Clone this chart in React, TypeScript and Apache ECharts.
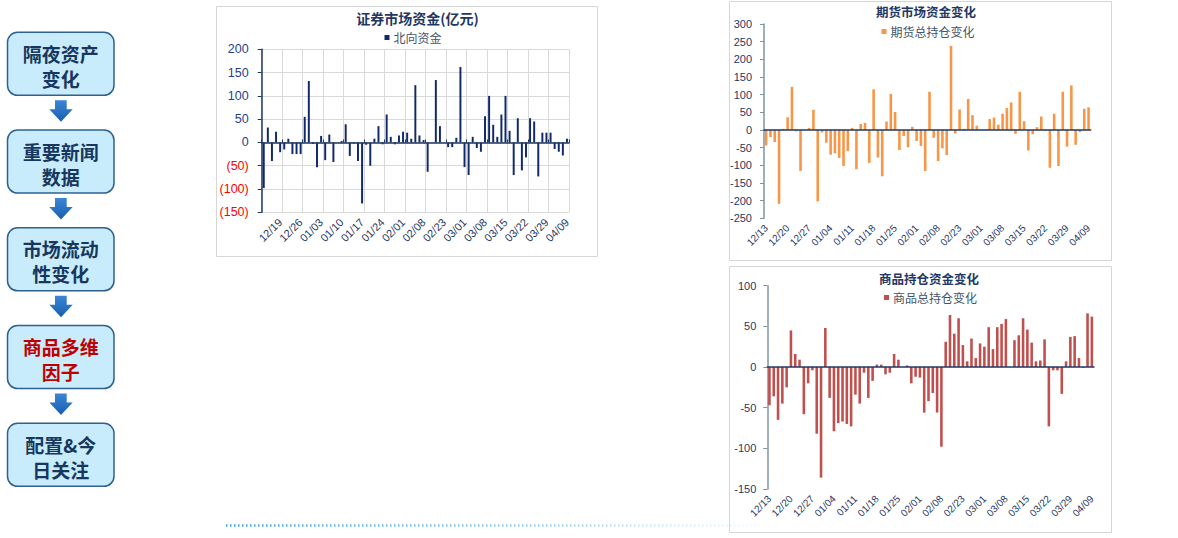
import React, { useEffect, useRef } from 'react';
import * as echarts from 'echarts';

// ---------- data ----------
const secDates = [
  '12/13','12/14','12/15','12/18','12/19','12/20','12/21','12/22','12/25','12/26',
  '12/27','12/28','12/29','01/02','01/03','01/04','01/05','01/08','01/09','01/10',
  '01/11','01/12','01/15','01/16','01/17','01/18','01/19','01/22','01/23','01/24',
  '01/25','01/26','01/30','01/31','02/01','02/02','02/05','02/06','02/07','02/08',
  '02/19','02/20','02/21','02/22','02/23','02/26','02/27','02/28','02/29','03/01',
  '03/04','03/05','03/06','03/07','03/08','03/11','03/12','03/13','03/14','03/15',
  '03/18','03/19','03/20','03/21','03/22','03/25','03/26','03/27','03/28','03/29',
  '04/01','04/02','04/03','04/08','04/09',
];
const secTicks = ['12/19','12/26','01/03','01/10','01/17','01/24','02/01','02/08','02/23','03/01','03/08','03/15','03/22','03/29','04/09'];
const northbound = [
  -98, 32, -40, 23, -21,
  -15, 8, -25, -25, -25,
  55, 132, -3, -53, 14,
  -38, 17, -42, 0, 3,
  39, -29, -2, -40, -131,
  -5, -50, 8, 35, -4,
  60, 12, -4, 15, 23,
  21, 8, 123, 15, 5,
  -63, 0, 134, 35, 0,
  -10, -10, 10, 162, -53,
  -70, 12, -12, -20, 56,
  100, 38, 12, 60, 100,
  25, -70, 52, -60, -32,
  52, 45, -73, 21, 21,
  21, -14, -20, -28, 8,
];

const futDates = [
  '12/13','12/14','12/15','12/18','12/19','12/20','12/21','12/22','12/25','12/26',
  '12/27','12/28','12/29','01/02','01/03','01/04','01/05','01/08','01/09','01/10',
  '01/11','01/12','01/15','01/16','01/17','01/18','01/19','01/22','01/23','01/24',
  '01/25','01/26','01/29','01/30','01/31','02/01','02/02','02/05','02/06','02/07',
  '02/08','02/19','02/20','02/21','02/22','02/23','02/26','02/27','02/28','02/29',
  '03/01','03/04','03/05','03/06','03/07','03/08','03/11','03/12','03/13','03/14',
  '03/15','03/18','03/19','03/20','03/21','03/22','03/25','03/26','03/27','03/28',
  '03/29','04/01','04/02','04/03','04/08','04/09',
];
const futTicks = ['12/13','12/20','12/27','01/04','01/11','01/18','01/25','02/01','02/08','02/23','03/01','03/08','03/15','03/22','03/29','04/09'];
const futuresOI = [
  -44, -20, -34, -209, 3, 36, 122, -4, -116, 0,
  6, 57, -202, -7, -36, -70, -66, -79, -102, -60,
  6, -111, 17, 20, -93, 115, -78, -131, 24, 102,
  51, -57, -17, -49, 9, -31, -45, -116, 108, -22,
  -88, -52, -71, 238, -10, 58, 3, 88, 42, 12,
  0, 0, 31, 35, 15, 46, 62, 78, -11, 108,
  25, -58, -12, 8, 38, -3, -107, 46, -102, 108,
  -47, 126, -42, -6, 60, 64,
];
const commodityOI = [
  -47, -36, -65, -45, -25,
  45, 16, 9, -58, -20,
  -4, -82, -136, 48, -38,
  -79, -69, -67, -70, -73,
  -34, -45, -7, -38, -17,
  3, 3, -9, -7, 16,
  9, 0, 2, -20, -12,
  -13, -56, -42, -32, -56,
  -98, 31, 64, 41, 60,
  27, 7, 35, 11, 29,
  25, 49, 22, 49, 53,
  59, 0, 33, 39, 60,
  46, 30, 7, 8, 34,
  -73, -4, -4, -33, 7,
  37, 38, 11, -1, 66,
  62,
];

const flowSteps = [
  ['隔夜资产', '变化'],
  ['重要新闻', '数据'],
  ['市场流动', '性变化'],
  ['商品多维', '因子'],
  ['配置&今', '日关注'],
];
const highlightedStep = 3;

const chartTitles = ['证券市场资金(亿元)', '期货市场资金变化', '商品持仓资金变化'];
const seriesNames = ['北向资金', '期货总持仓变化', '商品总持仓变化'];

// ---------- styles ----------
const NAVY = '#1f3864';
const SLATE = '#7d95a1';
const LEGEND_TEXT = '#44546a';
const FONT = '"Liberation Sans", Arial, "Noto Sans CJK SC", sans-serif';
const CJK = '"Noto Sans CJK SC", "Liberation Sans", sans-serif';

function labelAxis(gridIndex: number, data: string[], ticks: string[], fontSize: number, split: boolean) {
  return {
    type: 'category',
    gridIndex,
    data,
    position: 'bottom',
    boundaryGap: true,
    axisLine: { show: false, onZero: false },
    axisTick: { show: false },
    axisLabel: {
      interval: (_i: number, v: string) => ticks.includes(v),
      rotate: 45,
      margin: 8,
      fontSize,
      color: NAVY,
      fontFamily: FONT,
    },
    splitLine: {
      show: split,
      interval: (i: number) => i % 5 === 0,
      lineStyle: { color: '#d9d9d9', width: 1 },
    },
  };
}

function zeroAxis(gridIndex: number, data: string[], ticks: boolean) {
  return {
    type: 'category',
    gridIndex,
    data,
    position: 'bottom',
    boundaryGap: true,
    z: 5,
    axisLine: { show: true, onZero: true, lineStyle: { color: NAVY, width: 1.5 } },
    axisTick: {
      show: ticks,
      inside: true,
      length: 3,
      interval: (i: number) => i % 5 === 0,
      lineStyle: { color: NAVY, width: 1 },
    },
    axisLabel: { show: false },
    splitLine: { show: false },
  };
}

function legendFor(name: string, left: number, top: number) {
  return {
    data: [name],
    left,
    top,
    icon: 'rect',
    itemWidth: 5,
    itemHeight: 5,
    padding: 0,
    selectedMode: false,
    textStyle: { fontSize: 12, color: LEGEND_TEXT, fontFamily: CJK, padding: [0, 0, 0, -1] },
  };
}

function buildGraphics() {
  const els: any[] = [];
  // chart frames
  els.push({ type: 'rect', z: -10, shape: { x: 216.5, y: 6.5, width: 381, height: 250 }, style: { fill: '#fff', stroke: '#d6d6d6', lineWidth: 1 } });
  els.push({ type: 'rect', z: -10, shape: { x: 729.5, y: 1.5, width: 382, height: 259 }, style: { fill: '#fff', stroke: '#d6d6d6', lineWidth: 1 } });
  els.push({ type: 'rect', z: -10, shape: { x: 729.5, y: 266.5, width: 382, height: 266 }, style: { fill: '#fff', stroke: '#d6d6d6', lineWidth: 1 } });

  // titles
  const titlePos = [[417.5, 18, 14], [926, 11.5, 12.5], [929, 278, 12.5]];
  chartTitles.forEach((t, i) => {
    els.push({
      type: 'text', z: 10,
      style: {
        text: t, x: titlePos[i][0], y: titlePos[i][1],
        fill: NAVY, fontSize: titlePos[i][2], fontWeight: 'bold', fontFamily: CJK,
        align: 'center', verticalAlign: 'middle', textAlign: 'center', textVerticalAlign: 'middle',
      },
    });
  });

  // side flow
  const boxX = 7.5, boxW = 106.5, boxH = 63, step = 97.75, top0 = 32.3;
  flowSteps.forEach((lines, i) => {
    const top = top0 + step * i;
    els.push({
      type: 'rect', z: 5,
      shape: { x: boxX, y: top, width: boxW, height: boxH, r: 10 },
      style: { fill: '#c8ecfb', stroke: '#2f6190', lineWidth: 1.5 },
    });
    const color = i === highlightedStep ? '#c00000' : '#17375e';
    lines.forEach((ln, j) => {
      els.push({
        type: 'text', z: 6,
        style: {
          text: ln, x: boxX + boxW / 2, y: top + 21 + j * 25,
          fill: color, fontSize: 19, fontWeight: 'bold', fontFamily: CJK,
          align: 'center', verticalAlign: 'middle', textAlign: 'center', textVerticalAlign: 'middle',
        },
      });
    });
    if (i < flowSteps.length - 1) {
      const a = top + 68;
      els.push({
        type: 'polygon', z: 5,
        shape: {
          points: [
            [55, a], [66.7, a], [66.7, a + 9], [72.7, a + 9],
            [61, a + 21.5], [49.3, a + 9], [55, a + 9],
          ],
        },
        style: {
          fill: new echarts.graphic.LinearGradient(0, 0, 0, 1, [
            { offset: 0, color: '#3a86d6' },
            { offset: 1, color: '#1a5eae' },
          ]),
        },
      });
    }
  });

  // decorative dotted line at bottom (global-coordinate gradient so a flat line still paints)
  els.push({
    type: 'line', z: 1,
    shape: { x1: 226, y1: 525.5, x2: 760, y2: 525.5 },
    style: {
      stroke: new echarts.graphic.LinearGradient(226, 0, 760, 0, [
        { offset: 0, color: 'rgba(60,160,225,0.95)' },
        { offset: 0.6, color: 'rgba(90,175,230,0.6)' },
        { offset: 1, color: 'rgba(150,200,235,0.1)' },
      ], true),
      lineWidth: 2.5,
      lineDash: [1.5, 2.5],
    },
  });
  return els;
}

export default function App() {
  const ref = useRef<HTMLDivElement>(null);

  useEffect(() => {
    if (!ref.current) return;
    const chart = echarts.init(ref.current, undefined, { renderer: 'svg' });

    const option: any = {
      animation: false,
      backgroundColor: '#ffffff',
      textStyle: { fontFamily: FONT },
      grid: [
        { left: 261.7, top: 49.3, width: 307.3, height: 163, containLabel: false, outerBoundsMode: 'none' },
        { left: 764, top: 24, width: 326.7, height: 194.3, containLabel: false, outerBoundsMode: 'none' },
        { left: 767.3, top: 285.7, width: 326.7, height: 203.3, containLabel: false, outerBoundsMode: 'none' },
      ],
      legend: [
        legendFor(seriesNames[0], 384.5, 31.5),
        legendFor(seriesNames[1], 881.5, 25.5),
        legendFor(seriesNames[2], 884, 291.5),
      ],
      xAxis: [
        labelAxis(0, secDates, secTicks, 11, true),
        zeroAxis(0, secDates, true),
        labelAxis(1, futDates, futTicks, 10, false),
        zeroAxis(1, futDates, false),
        labelAxis(2, futDates, futTicks, 10, false),
        zeroAxis(2, futDates, false),
      ],
      yAxis: [
        {
          type: 'value', gridIndex: 0, min: -150, max: 200, interval: 50,
          axisLine: { show: true, onZero: false, lineStyle: { color: NAVY, width: 1.5 } },
          axisTick: { show: true, length: 4, lineStyle: { color: NAVY } },
          axisLabel: {
            margin: 13,
            formatter: (v: number) => (v < 0 ? `{neg|(${-v})}` : `{pos|${v}}`),
            rich: {
              neg: { color: '#ff0000', fontSize: 12.5, fontFamily: FONT },
              pos: { color: '#1f3f8a', fontSize: 12.5, fontFamily: FONT },
            },
          },
          splitLine: { show: true, lineStyle: { color: '#d9d9d9', width: 1 } },
        },
        {
          type: 'value', gridIndex: 1, min: -250, max: 300, interval: 50,
          axisLine: { show: true, onZero: false, lineStyle: { color: SLATE, width: 1.5 } },
          axisTick: { show: true, length: 4, lineStyle: { color: SLATE } },
          axisLabel: { margin: 12, fontSize: 11, color: NAVY, fontFamily: FONT },
          splitLine: { show: false },
        },
        {
          type: 'value', gridIndex: 2, min: -150, max: 100, interval: 50,
          axisLine: { show: true, onZero: false, lineStyle: { color: SLATE, width: 1.5 } },
          axisTick: { show: true, length: 4, lineStyle: { color: SLATE } },
          axisLabel: { margin: 11, fontSize: 11, color: NAVY, fontFamily: FONT },
          splitLine: { show: false },
        },
      ],
      series: [
        {
          name: seriesNames[0], type: 'bar', xAxisIndex: 0, yAxisIndex: 0,
          data: northbound, barWidth: '48%', itemStyle: { color: '#10296b' },
        },
        {
          name: seriesNames[1], type: 'bar', xAxisIndex: 2, yAxisIndex: 1,
          data: futuresOI, barWidth: '60%', itemStyle: { color: '#f79646' },
        },
        {
          name: seriesNames[2], type: 'bar', xAxisIndex: 4, yAxisIndex: 2,
          data: commodityOI, barWidth: '60%', itemStyle: { color: '#c0504d' },
        },
      ],
      graphic: { elements: buildGraphics() },
    };

    chart.setOption(option);
    return () => chart.dispose();
  }, []);

  return (
    <div
      ref={ref}
      style={{ position: 'absolute', left: 0, top: 0, width: 1178, height: 538, background: '#fff' }}
    />
  );
}
